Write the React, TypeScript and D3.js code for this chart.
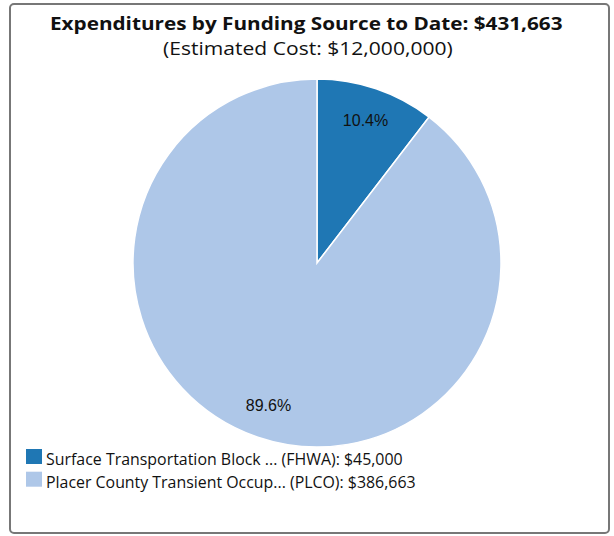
import React, { useLayoutEffect, useRef, useState } from "react";
import * as d3 from "d3";

const sources = [
  "Surface Transportation Block ... (FHWA)",
  "Placer County Transient Occup... (PLCO)",
];
const amounts = [45000, 386663];
const colors = ["#1f77b4", "#aec7e8"];
const titleText = "Expenditures by Funding Source to Date: $431,663";
const subtitleText = "(Estimated Cost: $12,000,000)";
const legendWidths = [357, 370];

function StretchText(props: {
  x: number; y: number; width: number; fontSize: number; fontWeight?: string; children: string;
}) {
  const ref = useRef<SVGTextElement>(null);
  const [sx, setSx] = useState(1);
  useLayoutEffect(() => {
    if (ref.current) {
      const w = ref.current.getComputedTextLength();
      if (w > 0) setSx(props.width / w);
    }
  }, [props.width, props.children]);
  return (
    <text
      ref={ref}
      transform={`translate(${props.x},${props.y}) scale(${sx},1)`}
      fontFamily="'Open Sans'"
      fontSize={props.fontSize}
      fontWeight={props.fontWeight || "normal"}
      fill="#111"
    >
      {props.children}
    </text>
  );
}

export default function App() {
  const W = 614, H = 536;
  const cx = 317, cy = 263, R = 184;
  const pie = d3.pie<number>().sort(null).value((d) => d)(amounts);
  const arc = d3.arc<d3.PieArcDatum<number>>().innerRadius(0).outerRadius(R);
  const labelArc = d3.arc<d3.PieArcDatum<number>>().innerRadius(R * 0.82).outerRadius(R * 0.82);
  const total = d3.sum(amounts);
  const fmt = d3.format(",");
  return (
    <svg width={W} height={H} style={{ position: "absolute", left: 0, top: 0 }}>
      <rect x={10} y={4} width={599} height={529} rx={4} ry={4} fill="#fff" stroke="#777" strokeWidth={2} />
      <StretchText x={50} y={29.5} width={513} fontSize={18.5} fontWeight="bold">{titleText}</StretchText>
      <StretchText x={163} y={55} width={290} fontSize={17.5}>{subtitleText}</StretchText>
      <g transform={`translate(${cx},${cy})`}>
        {pie.map((p, i) => (
          <path key={i} d={arc(p) || ""} fill={colors[i]} stroke="#fff" strokeWidth={1.5} />
        ))}
        {pie.map((p, i) => {
          const [x, y] = labelArc.centroid(p);
          return (
            <text key={i} x={x} y={y} dy="0.35em" textAnchor="middle" fontFamily="'Liberation Sans', Arial, sans-serif" fontSize={16} fill="#111">
              {((p.value / total) * 100).toFixed(1) + "%"}
            </text>
          );
        })}
      </g>
      {sources.map((s, i) => (
        <g key={i}>
          <rect x={26} y={449 + i * 22.7} width={16} height={15} fill={colors[i]} />
          <StretchText x={46} y={465 + i * 22.7} width={legendWidths[i]} fontSize={15.5}>
            {`${s}: $${fmt(amounts[i])}`}
          </StretchText>
        </g>
      ))}
    </svg>
  );
}
